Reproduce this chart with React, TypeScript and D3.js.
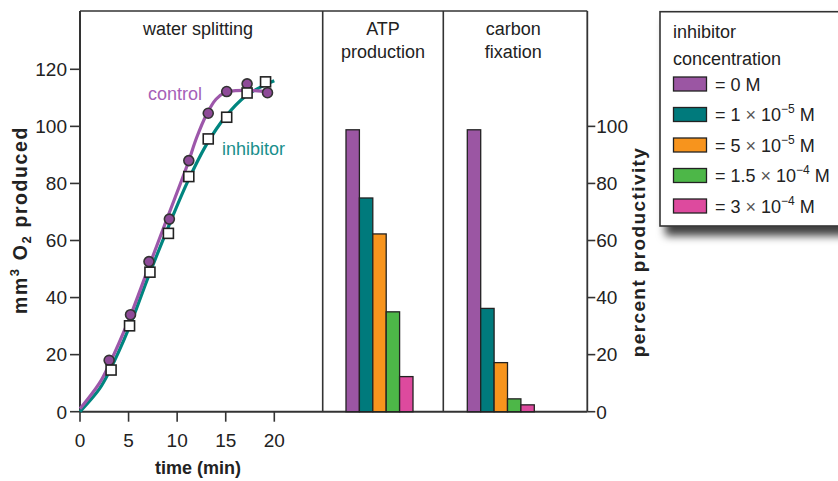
import React from "react";
import * as d3 from "d3";

// ---------- data ----------
const timeTicks = [0, 5, 10, 15, 20];
const leftTicks = [0, 20, 40, 60, 80, 100, 120];
const rightTicks = [0, 20, 40, 60, 80, 100];

const controlTimes = [3, 5.2, 7.1, 9.2, 11.2, 13.2, 15.1, 17.2, 19.3];
const controlValues = [18, 34, 52.6, 67.5, 88, 104.6, 112.2, 114.9, 111.8];
const inhibitorTimes = [3.2, 5.1, 7.2, 9.1, 11.2, 13.2, 15.1, 17.2, 19.1];
const inhibitorValues = [14.6, 30.1, 48.9, 62.5, 82.4, 95.6, 103.2, 111.7, 115.6];

// hand-read fitted curves
const controlCurveT = [0, 2, 3, 5, 7, 9, 11, 12, 13, 14, 15, 16, 18, 19.5];
const controlCurveV = [1, 10, 16.5, 32, 50, 68, 86, 96, 104, 109.5, 112, 112.5, 112.5, 112];
const inhibitorCurveT = [0, 2, 3, 5, 7, 9, 11, 13, 15, 17, 19, 20];
const inhibitorCurveV = [0, 8, 14, 29, 47, 64, 80, 93.5, 103.5, 110.5, 114.5, 116];

const processes = ["ATP production", "carbon fixation"];
const processTitles = [["ATP", "production"], ["carbon", "fixation"]];
const concentrations = ["0", "1e-5", "5e-5", "1.5e-4", "3e-4"];
const atpValues = [98.8, 74.9, 62.3, 35, 12.3];
const carbonValues = [98.8, 36.2, 17.2, 4.5, 2.4];
const barColors = ["#9b56a3", "#007a7c", "#f7941d", "#4db748", "#dd4a9e"];
const legendMantissa = ["0", "1", "5", "1.5", "3"];
const legendExponent = [null, "−5", "−5", "−4", "−4"];

// ---------- layout ----------
const W = 838, H = 481;
const left = 80, bottom = 411.7, top = 11;
const div1 = 322.7, div2 = 443.3, rightAxis = 587.3;

const x = d3.scaleLinear().domain([0, 20]).range([left, 274.3]);
const y = d3.scaleLinear().domain([0, 120]).range([bottom, 69.3]);
const panelStart = d3.scaleOrdinal<string, number>().domain(processes).range([346, 467.3]);
const band = d3.scaleBand<string>().domain(concentrations).range([0, 67]).padding(0);

const curveLine = d3.line<[number, number]>()
  .x(d => x(d[0])).y(d => y(d[1]))
  .curve(d3.curveCatmullRom.alpha(0.5));

const axisColor = "#333";
const font = "'Liberation Sans', Arial, Helvetica, sans-serif";

export default function App() {
  const controlPath = curveLine(controlCurveT.map((t, i) => [t, controlCurveV[i]] as [number, number]));
  const inhibitorPath = curveLine(inhibitorCurveT.map((t, i) => [t, inhibitorCurveV[i]] as [number, number]));
  const barSets = [atpValues, carbonValues];

  return (
    <svg width={W} height={H} style={{ position: "absolute", left: 0, top: 0, background: "#fff" }}
      fontFamily={font}>
      <defs>
        <filter id="shadow" x="-10%" y="-10%" width="130%" height="140%">
          <feDropShadow dx="6" dy="9" stdDeviation="4" floodColor="#000" floodOpacity="0.75" />
        </filter>
      </defs>
      <rect width={W} height={H} fill="#fff" />

      {/* frame */}
      <line x1={left} x2={rightAxis} y1={top} y2={top} stroke={axisColor} strokeWidth={1.6} />
      <line x1={left} x2={left} y1={top} y2={bottom} stroke={axisColor} strokeWidth={2} />
      <line x1={div1} x2={div1} y1={top} y2={bottom} stroke={axisColor} strokeWidth={1.6} />
      <line x1={div2} x2={div2} y1={top} y2={bottom} stroke={axisColor} strokeWidth={1.6} />
      <line x1={rightAxis} x2={rightAxis} y1={top} y2={bottom} stroke={axisColor} strokeWidth={1.8} />
      <line x1={left} x2={rightAxis} y1={bottom} y2={bottom} stroke={axisColor} strokeWidth={2} />

      {/* left axis */}
      {leftTicks.map(t => (
        <g key={"l" + t}>
          <line x1={left - 10} x2={left} y1={y(t)} y2={y(t)} stroke={axisColor} strokeWidth={1.6} />
          <text x={67} y={y(t)} dy="0.36em" textAnchor="end" fontSize={19} fill="#222">{t}</text>
        </g>
      ))}
      {/* bottom axis */}
      {timeTicks.map(t => (
        <g key={"b" + t}>
          <line x1={x(t)} x2={x(t)} y1={bottom} y2={bottom + 10} stroke={axisColor} strokeWidth={1.6} />
          <text x={x(t)} y={447} textAnchor="middle" fontSize={19} fill="#222">{t}</text>
        </g>
      ))}
      {/* right axis */}
      {rightTicks.map(t => (
        <g key={"r" + t}>
          <line x1={rightAxis} x2={rightAxis + 8} y1={y(t)} y2={y(t)} stroke={axisColor} strokeWidth={1.6} />
          <text x={rightAxis + 9} y={y(t)} dy="0.36em" textAnchor="start" fontSize={19} fill="#222">{t}</text>
        </g>
      ))}

      {/* axis titles */}
      <text x={198} y={474} textAnchor="middle" fontSize={18} fontWeight="bold" fill="#222">time (min)</text>
      <text transform={`translate(27,220) rotate(-90)`} textAnchor="middle" fontSize={19.5} fontWeight="bold"
        letterSpacing={1.6} fill="#222">
        mm<tspan fontSize={13} dy={-8}>3</tspan><tspan dy={8}> O</tspan><tspan fontSize={13} dy={4}>2</tspan><tspan dy={-4}> produced</tspan>
      </text>
      <text transform={`translate(645,252) rotate(-90)`} textAnchor="middle" fontSize={19} fontWeight="bold"
        letterSpacing={1.4} fill="#222">percent productivity</text>

      {/* panel titles */}
      <text x={198} y={35} textAnchor="middle" fontSize={18} fill="#222">water splitting</text>
      {processTitles.map((lines, i) => {
        const cx = i === 0 ? (div1 + div2) / 2 : (div2 + rightAxis) / 2 - 2;
        return lines.map((s, j) => (
          <text key={s} x={cx} y={35 + j * 23} textAnchor="middle" fontSize={18} fill="#222">{s}</text>
        ));
      })}

      {/* curves */}
      <path d={inhibitorPath || ""} fill="none" stroke="#00857f" strokeWidth={3.2} />
      <path d={controlPath || ""} fill="none" stroke="#9d57aa" strokeWidth={3.2} />

      {/* markers */}
      {controlTimes.map((t, i) => (
        <circle key={"c" + i} cx={x(t)} cy={y(controlValues[i])} r={5} fill="#8e4a98" stroke="#333" strokeWidth={1.6} />
      ))}
      {inhibitorTimes.map((t, i) => (
        <rect key={"s" + i} x={x(t) - 5} y={y(inhibitorValues[i]) - 5} width={10} height={10}
          fill="#fff" stroke="#222" strokeWidth={1.6} />
      ))}

      <text x={148} y={100} fontSize={18} fill="#a660b8">control</text>
      <text x={222} y={155} fontSize={18} fill="#1a8f8c">inhibitor</text>

      {/* bars */}
      {processes.map((p, pi) => (
        <g key={p}>
          {concentrations.map((c, ci) => (
            <rect key={c} x={panelStart(p) + (band(c) || 0)} y={y(barSets[pi][ci])}
              width={band.bandwidth()} height={bottom - y(barSets[pi][ci])}
              fill={barColors[ci]} stroke="#222" strokeWidth={1.3} />
          ))}
        </g>
      ))}

      {/* legend */}
      <rect x={660} y={11.7} width={200} height={214.3} fill="#fff" stroke="#333" strokeWidth={1.6} filter="url(#shadow)" />
      <text x={673} y={38} fontSize={18} fill="#222">inhibitor</text>
      <text x={673} y={65} fontSize={18} fill="#222">concentration</text>
      {concentrations.map((c, i) => {
        const cy = 84 + i * 30.5;
        return (
          <g key={"lg" + c}>
            <rect x={673.5} y={cy - 7} width={33} height={14} fill={barColors[i]} stroke="#222" strokeWidth={1.3} />
            <text x={715} y={cy + 6.5} fontSize={18} fill="#222">
              {"= " + legendMantissa[i]}
              {legendExponent[i] ? (
                <>
                  <tspan fill="#555"> × </tspan>10<tspan fontSize={12} dy={-8}>{legendExponent[i]}</tspan>
                  <tspan dy={8}> M</tspan>
                </>
              ) : " M"}
            </text>
          </g>
        );
      })}
    </svg>
  );
}
